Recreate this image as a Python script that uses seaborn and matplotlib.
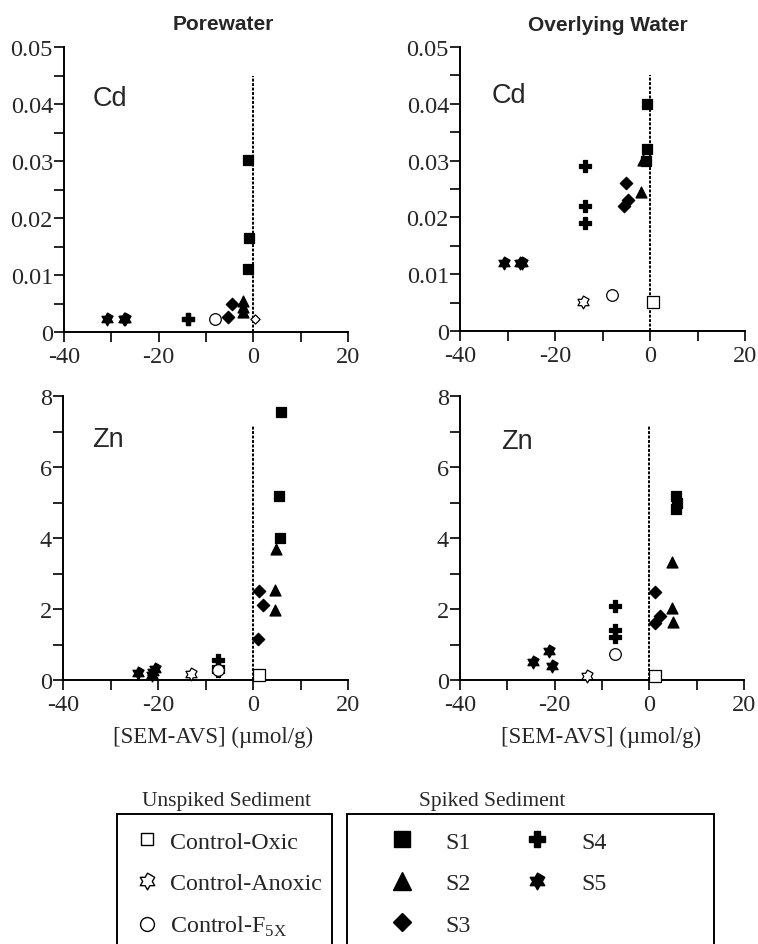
import numpy as np
import pandas as pd
import matplotlib
matplotlib.use("Agg")
import matplotlib.pyplot as plt
import seaborn as sns
from matplotlib.lines import Line2D
from matplotlib.patches import Rectangle
from matplotlib.path import Path
from matplotlib.ticker import MultipleLocator, FormatStrFormatter

# Values: {group: (x = [SEM-AVS] umol/g, y = metal conc.)}
pore_cd = {
    "S1": ([-1.2, -0.9, -1.1], [0.0302, 0.0165, 0.011]),
    "S2": ([-2.1, -2.1, -2.1], [0.0054, 0.0044, 0.0035]),
    "S3": ([-5.4, -4.6], [0.0026, 0.005]),
    "S4": ([-13.9, -13.7], [0.0022, 0.0022]),
    "S5": ([-31.0, -27.4, -27.1], [0.0022, 0.0022, 0.0022]),
    "Control-F5x": ([-8.2], [0.0022]),
    "Control-Oxic": ([0.3], [0.0022]),
}
over_cd = {
    "S1": ([-0.7, -0.7, -0.8], [0.040, 0.032, 0.030]),
    "S2": ([-1.9, -1.5], [0.0245, 0.0301]),
    "S3": ([-5.1, -5.5, -4.7], [0.026, 0.022, 0.023]),
    "S4": ([-13.7, -13.7, -13.7], [0.029, 0.022, 0.019]),
    "S5": ([-30.8, -27.3, -27.0], [0.012, 0.012, 0.012]),
    "Control-Anoxic": ([-14.2], [0.0051]),
    "Control-F5x": ([-8.1], [0.0063]),
    "Control-Oxic": ([0.6], [0.0051]),
}
pore_zn = {
    "S1": ([5.9, 5.5, 5.7], [7.54, 5.19, 3.99]),
    "S2": ([4.8, 4.6, 4.6], [3.69, 2.54, 1.98]),
    "S3": ([1.3, 2.2, 1.1], [2.52, 2.10, 1.15]),
    "S4": ([-7.3, -7.3, -7.3], [0.55, 0.38, 0.25]),
    "S5": ([-24.3, -21.3, -20.6, -21.0], [0.19, 0.13, 0.31, 0.22]),
    "Control-Anoxic": ([-13.1], [0.17]),
    "Control-F5x": ([-7.3], [0.27]),
    "Control-Oxic": ([1.3], [0.14]),
}
over_zn = {
    "S1": ([5.6, 5.9, 5.6], [5.19, 5.00, 4.82]),
    "S2": ([4.7, 4.8, 5.0], [3.31, 2.02, 1.62]),
    "S3": ([1.1, 2.2, 1.2], [2.49, 1.79, 1.60]),
    "S4": ([-7.2, -7.2, -7.2], [2.09, 1.41, 1.20]),
    "S5": ([-24.5, -21.3, -20.5], [0.50, 0.81, 0.40]),
    "Control-Anoxic": ([-13.1], [0.12]),
    "Control-F5x": ([-7.3], [0.73]),
    "Control-Oxic": ([1.3], [0.12]),
}

panel_titles = ["Porewater", "Overlying Water"]
metals = ["Cd", "Zn"]
unspiked_labels = ["Control-Oxic", "Control-Anoxic", "Control-F$_{\\mathregular{5X}}$"]
spiked_labels = ["S1", "S2", "S3", "S4", "S5"]

sns.set_style("ticks")
plt.rcParams["font.family"] = ["Liberation Serif", "DejaVu Serif"]
plt.rcParams["axes.unicode_minus"] = False
plt.rcParams["mathtext.fontset"] = "custom"
plt.rcParams["mathtext.rm"] = "Liberation Serif"

# six-pointed star marker
ang = np.deg2rad(90 + 30 * np.arange(12))
rad = np.where(np.arange(12) % 2 == 0, 1.0, 1 / np.sqrt(3))
star6 = Path(np.c_[rad * np.cos(ang), rad * np.sin(ang)], closed=True)

styles = {
    "S1": dict(marker="s", facecolor="black", edgecolor="black", s=60),
    "S2": dict(marker="^", facecolor="black", edgecolor="black", s=62),
    "S3": dict(marker="D", facecolor="black", edgecolor="black", s=40),
    "S4": dict(marker="P", facecolor="black", edgecolor="black", s=72),
    "S5": dict(marker=star6, facecolor="black", edgecolor="black", s=85),
    "Control-Oxic": dict(marker="s", facecolor="white", edgecolor="black", s=70),
    "Control-Anoxic": dict(marker=star6, facecolor="white", edgecolor="black", s=85),
    "Control-F5x": dict(marker="o", facecolor="white", edgecolor="black", s=70),
}

fig = plt.figure(figsize=(7.58, 9.45), dpi=100)
W, H = 758, 945
boxes = [
    [(64, 48, 348, 333), (460, 48, 745, 332)],
    [(63, 397, 348, 681), (460, 397, 744, 681)],
]
panels = [[pore_cd, over_cd], [pore_zn, over_zn]]
title_x = [0.56, 0.52]
metal_pos = [[(0.102, 0.822), (0.111, 0.830)], [(0.101, 0.849), (0.146, 0.843)]]
xlabel_x = [0.527, 0.497]

for r in range(2):
    for c in range(2):
        x0, y0, x1, y1 = boxes[r][c]
        ax = fig.add_axes([x0 / W, 1 - y1 / H, (x1 - x0) / W, (y1 - y0) / H])
        data = panels[r][c]
        for grp, (xs, ys) in data.items():
            st = dict(styles[grp])
            if r == 0 and c == 0 and grp == "Control-Oxic":
                st = dict(marker="D", facecolor="white", edgecolor="black", s=22)
            sns.scatterplot(x=xs, y=ys, ax=ax, linewidth=0.9, zorder=4,
                            clip_on=False, **st)

        ax.set_xlim(-40, 20)
        if r == 0:
            ax.set_ylim(0, 0.05)
            ax.yaxis.set_major_locator(MultipleLocator(0.01))
            ax.yaxis.set_minor_locator(MultipleLocator(0.005))
            ax.yaxis.set_major_formatter(FormatStrFormatter("%g"))
            ax.vlines(0, 0, 0.045, colors="black", linestyles=(0, (1.5, 0.8)), lw=1.4, zorder=2)
        else:
            ax.set_ylim(0, 8)
            ax.yaxis.set_major_locator(MultipleLocator(2))
            ax.yaxis.set_minor_locator(MultipleLocator(1))
            ax.vlines(0, 0, 7.15, colors="black", linestyles=(0, (1.5, 0.8)), lw=1.4, zorder=2)
            ax.set_xlabel("[SEM-AVS] (\u00b5mol/g)", fontsize=16.5)
            ax.xaxis.set_label_coords(xlabel_x[c], -0.199)
            ax.xaxis.label.set_verticalalignment("center")
        ax.xaxis.set_major_locator(MultipleLocator(20))
        ax.xaxis.set_minor_locator(MultipleLocator(10))

        sns.despine(ax=ax)
        for sp in ["left", "bottom"]:
            ax.spines[sp].set_linewidth(1.4)
            ax.spines[sp].set_color("black")
        ax.tick_params(which="both", direction="out", length=7, width=1.2, color="black")
        ax.tick_params(axis="y", which="major", labelsize=17.5, pad=1)
        ax.tick_params(axis="x", which="major", labelsize=17.5, pad=3)
        ax.set_facecolor("white")

        mx, my = metal_pos[r][c]
        ax.text(mx, my, metals[r], transform=ax.transAxes, fontsize=19.5,
                family=["Liberation Sans", "DejaVu Sans"], ha="left", va="center")
        if r == 0:
            ax.text(title_x[c], 1 + 23 / 285, panel_titles[c], transform=ax.transAxes,
                    fontsize=15, fontweight="bold", family=["Liberation Sans", "DejaVu Sans"],
                    ha="center", va="center")

# legend frames (run off the bottom edge as in the original)
for lx0, lx1 in [(117, 332), (347, 714)]:
    fig.patches.append(Rectangle((lx0 / W, -0.05), (lx1 - lx0) / W, (1 - 815 / H) + 0.05,
                                 transform=fig.transFigure, fill=False,
                                 edgecolor="black", lw=1.4))
fig.text(227 / W, 1 - 802 / H, "Unspiked Sediment", fontsize=15.5, ha="center", va="center")
fig.text(492 / W, 1 - 802 / H, "Spiked Sediment", fontsize=15.5, ha="center", va="center")

unspiked_handles = [
    Line2D([], [], ls="none", marker="s", mfc="white", mec="black", ms=9, mew=1.0),
    Line2D([], [], ls="none", marker=star6, mfc="white", mec="black", ms=12, mew=1.0),
    Line2D([], [], ls="none", marker="o", mfc="white", mec="black", ms=10, mew=1.0),
]
spiked_handles = [
    Line2D([], [], ls="none", marker="s", color="black", ms=12),
    Line2D([], [], ls="none", marker="^", color="black", ms=13),
    Line2D([], [], ls="none", marker="D", color="black", ms=9),
    Line2D([], [], ls="none", marker="P", color="black", ms=12),
    Line2D([], [], ls="none", marker=star6, color="black", ms=12),
]
leg_y = 1 - 832 / H
fig.legend(unspiked_handles, unspiked_labels, loc="upper left",
           bbox_to_anchor=(135 / W, leg_y), frameon=False, fontsize=17.3,
           borderpad=0, borderaxespad=0, handlelength=1.0, handletextpad=0.47,
           labelspacing=0.82)
fig.legend(spiked_handles, spiked_labels, loc="upper left", ncol=2,
           bbox_to_anchor=(390 / W, leg_y), frameon=False, fontsize=17.3,
           borderpad=0, borderaxespad=0, handlelength=1.0, handletextpad=1.32,
           columnspacing=2.25, labelspacing=0.82)

fig.savefig("out.png", dpi=100, facecolor="white")
